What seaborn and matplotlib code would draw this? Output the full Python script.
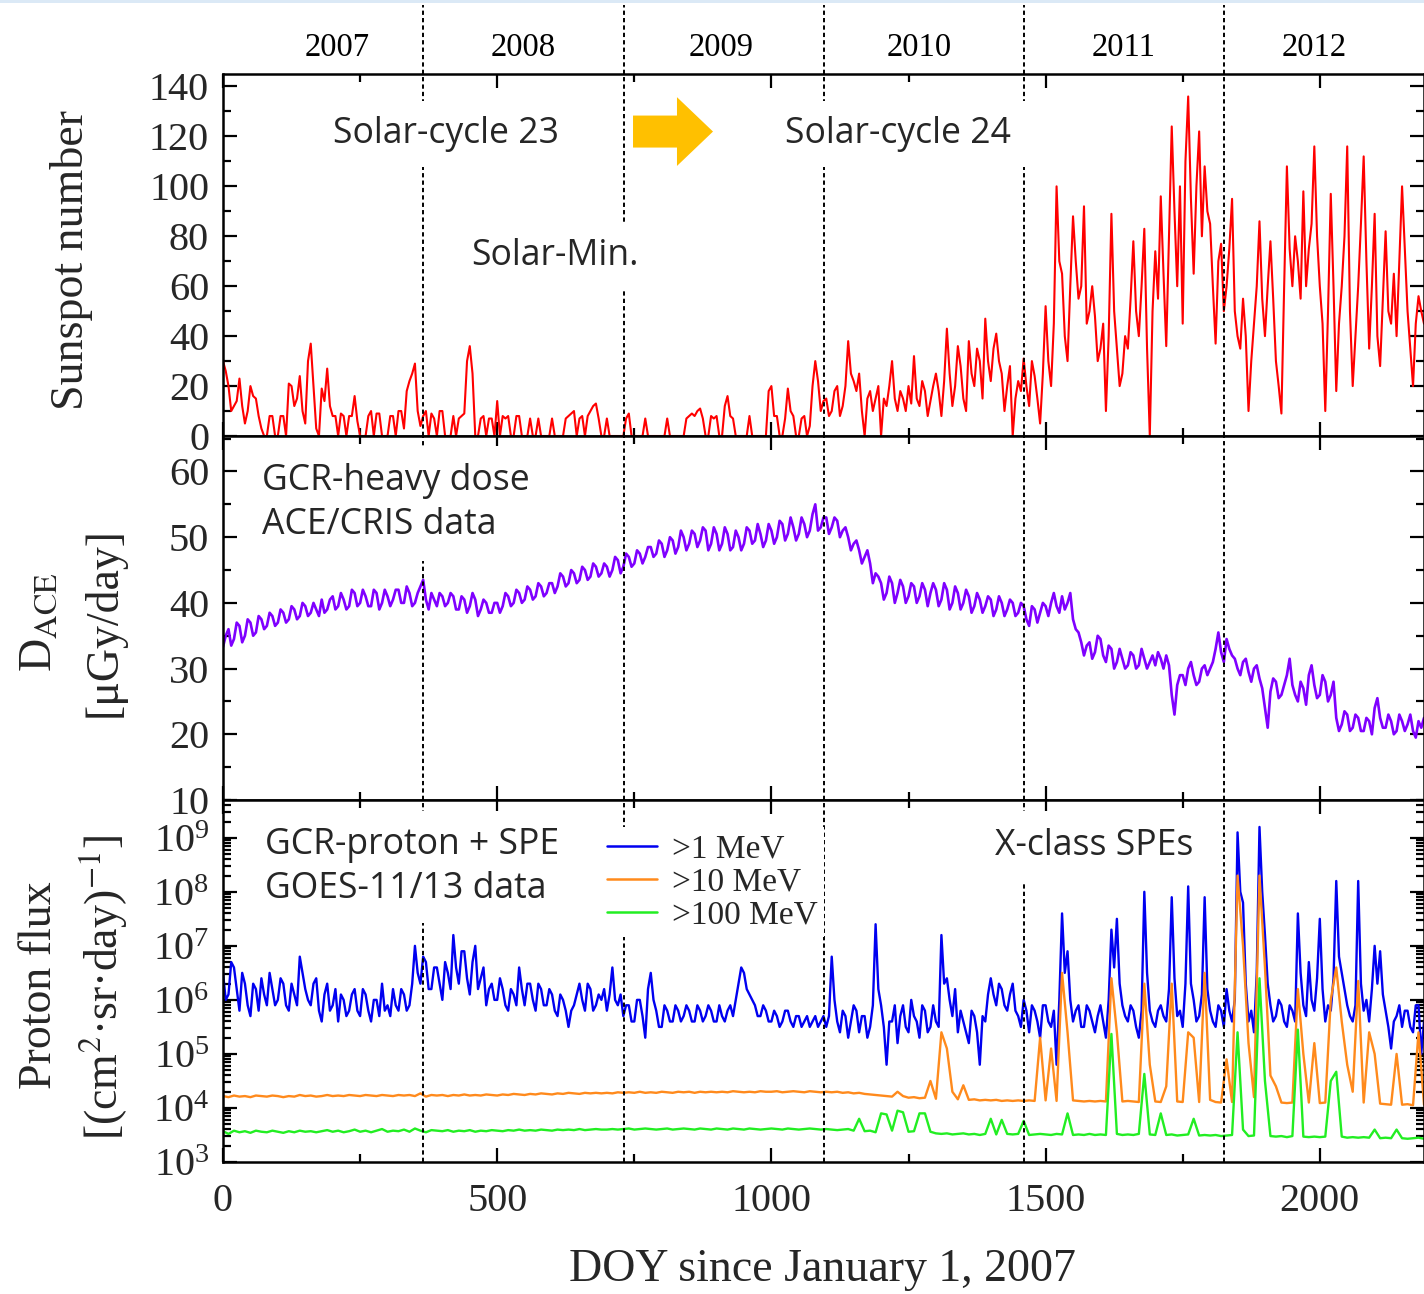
import numpy as np
import pandas as pd
import matplotlib
matplotlib.use("Agg")
import matplotlib.pyplot as plt
import matplotlib.patches as mpatches
from matplotlib.ticker import MultipleLocator, LogLocator, NullFormatter
import seaborn as sns

# ---------------- data ----------------
days_5 = np.arange(0, 2191, 5)     # sunspot, dose and >1 MeV: one value every 5 days
days_10 = np.arange(0, 2191, 10)   # >10 MeV and >100 MeV: one value every 10 days

sunspot = [
    30, 26, 20, 10, 12, 14, 23, 12, 5, 10, 20, 16, 15, 8, 3, 0, 0, 8, 8, 0,
    0, 8, 8, 0, 21, 20, 12, 15, 24, 10, 5, 30, 37, 20, 3, 0, 19, 14, 27, 12,
    8, 8, 0, 9, 8, 0, 8, 8, 16, 6, 0, 0, 0, 8, 10, 0, 9, 9, 0, 0,
    0, 8, 8, 0, 10, 10, 3, 18, 22, 25, 29, 10, 4, 8, 10, 0, 9, 7, 0, 10,
    10, 0, 0, 0, 8, 0, 7, 8, 9, 30, 36, 25, 0, 0, 7, 8, 0, 7, 7, 0,
    14, 0, 8, 7, 8, 0, 0, 8, 8, 0, 0, 0, 7, 0, 0, 7, 0, 0, 0, 0,
    7, 0, 0, 0, 0, 7, 8, 9, 10, 0, 7, 8, 0, 8, 10, 12, 13, 7, 0, 0,
    7, 0, 0, 0, 0, 0, 0, 7, 9, 0, 0, 0, 0, 0, 7, 0, 0, 0, 0, 0,
    0, 0, 7, 0, 0, 0, 0, 0, 0, 7, 8, 9, 8, 10, 11, 7, 0, 0, 8, 7,
    8, 0, 0, 12, 16, 8, 7, 0, 0, 0, 0, 0, 8, 0, 0, 0, 0, 0, 0, 18,
    20, 8, 8, 0, 0, 7, 19, 10, 8, 0, 0, 7, 8, 0, 4, 20, 30, 22, 10, 14,
    15, 8, 10, 18, 20, 8, 12, 20, 38, 25, 22, 18, 25, 10, 0, 15, 18, 10, 15, 20,
    0, 15, 12, 20, 30, 15, 10, 18, 15, 10, 20, 13, 32, 15, 12, 22, 18, 8, 14, 20,
    25, 18, 8, 22, 43, 25, 12, 20, 36, 28, 15, 10, 38, 25, 20, 35, 30, 15, 47, 30,
    22, 35, 41, 30, 25, 10, 20, 28, 0, 15, 22, 18, 31, 20, 12, 30, 24, 15, 5, 25,
    52, 30, 20, 45, 100, 70, 65, 40, 30, 60, 88, 70, 55, 60, 92, 45, 50, 60, 48, 30,
    35, 45, 10, 40, 89, 50, 35, 20, 25, 40, 35, 55, 78, 50, 40, 60, 83, 35, 0, 50,
    74, 55, 96, 65, 36, 80, 124, 90, 60, 100, 45, 110, 136, 95, 65, 100, 122, 80, 108, 90,
    85, 60, 37, 70, 77, 50, 60, 75, 95, 50, 40, 35, 55, 40, 10, 30, 45, 60, 86, 55,
    40, 60, 78, 55, 30, 20, 9, 60, 108, 75, 60, 80, 70, 55, 98, 60, 75, 85, 116, 80,
    60, 45, 10, 50, 97, 60, 18, 45, 60, 80, 116, 50, 20, 40, 60, 85, 112, 70, 35, 60,
    89, 40, 28, 55, 82, 50, 45, 65, 40, 70, 100, 75, 50, 35, 20, 45, 56, 50, 45,
]

dose_ace = [
    33.3, 35, 36, 33.5, 34.5, 37, 36.5, 34, 35, 37.5, 37, 35, 35.5, 38, 37.5, 36, 36.5, 38.5, 38, 36.5,
    37, 39, 38.5, 37, 37.5, 39.5, 39, 37.5, 38, 40, 39.5, 38, 38.5, 40, 39, 38, 40.5, 38.5, 39, 40.5,
    41, 39, 39.5, 41.5, 40.5, 39, 39.5, 42, 41.5, 39.5, 40, 42, 41, 39.5, 39.5, 42, 41.5, 39, 40, 42,
    41, 39.5, 40.5, 42, 42, 40, 40, 42.5, 41.5, 39.5, 40, 41.5, 42.5, 43.5, 40.5, 39, 41.5, 40.5, 39.5, 41.5,
    41, 39.5, 40, 41.5, 41, 39, 39, 41, 40.5, 38.5, 39.5, 41.5, 40.5, 38, 39, 40.5, 40, 38.5, 38.5, 40,
    40, 38.5, 39.5, 41.5, 41, 39.5, 40, 42, 41.5, 40, 40.5, 42.5, 42, 40.5, 41, 43, 42.5, 41, 41.5, 43,
    43, 41.5, 42.5, 44.5, 44, 42.5, 43, 45, 44.5, 43, 43.5, 45.5, 45, 43.5, 44, 46, 45.5, 44, 44.5, 46,
    45.5, 44, 45, 47, 46.5, 44.5, 45.5, 47.5, 47, 45.5, 46, 48, 47.5, 46, 47, 48.5, 48.5, 47, 47.5, 49.5,
    49, 47, 48, 50, 49.5, 47.5, 48.5, 51, 50, 48, 49, 51, 50.5, 48.5, 49.5, 51.5, 51, 48, 49, 51.5,
    50.5, 48, 49, 51.5, 50.5, 48, 48.5, 51, 50, 48, 49, 51.5, 51, 49, 49.5, 52, 50.5, 48.5, 49.5, 52,
    51, 49, 50, 52.5, 52, 49.5, 50.5, 53, 51.5, 49.5, 50.5, 53, 52, 50, 51, 53.5, 55, 51, 51.5, 53,
    53, 50.5, 51.5, 53, 52.5, 50, 51, 51.5, 50, 48, 49, 49.5, 48, 46, 47, 48, 46, 43, 44.5, 44,
    43, 40.5, 41.5, 44, 43, 40, 41.5, 43.5, 42.5, 40, 41, 43, 42.5, 40, 41, 43, 42, 39.5, 41.5, 43,
    42, 39.5, 40.5, 43, 42, 39, 40, 42.5, 41.5, 39, 40, 42, 41, 38.5, 39.5, 41.5, 40.5, 38.5, 39.5, 41,
    40.5, 38, 39, 41, 40, 38, 39, 40.5, 40, 38, 38.5, 40, 39.5, 37.5, 36.5, 39.5, 39, 37, 38.5, 40,
    39.5, 38, 40, 41.5, 39.5, 38.5, 41, 39, 40, 41.5, 37.5, 36, 35.5, 34, 32, 33.5, 34, 31.5, 32.5, 35,
    34.5, 32, 31, 33.5, 33, 30, 31, 33, 31.5, 30, 30.5, 32.5, 32, 30, 30.5, 33, 31.5, 30, 31, 32,
    30.5, 32.5, 31.5, 30, 32, 30.5, 26, 23, 27.5, 29, 29, 27.5, 30, 31, 29, 27.5, 28, 30, 30.5, 29,
    30, 31, 33, 35.5, 32.5, 31, 34.5, 33, 32, 31.5, 30, 29, 31, 31.5, 29.5, 28, 30, 30.5, 28.5, 27,
    24, 21, 26.5, 28.5, 28, 25.5, 26, 27.5, 29, 31.5, 27.5, 26, 25, 28, 27, 24.5, 29, 30.5, 27.5, 25.5,
    26, 29, 28, 25, 26, 28, 22.5, 20.5, 21.5, 23.5, 23, 20.5, 21, 23, 22.5, 20.5, 20.5, 22.5, 22, 20,
    24, 25.5, 22.5, 21, 21, 23, 22, 20, 20.5, 23, 22, 20.5, 21.5, 23, 20.5, 19.5, 22, 21, 22.5,
]

# proton fluxes given as log10 of (cm^2 sr day)^-1
flux_1mev_log10 = [
    6.5, 6.0, 6.1, 6.7, 6.6, 6.2, 5.8, 6.5, 6.3, 5.9, 5.7, 6.3, 6.2, 5.8, 6.4, 6.1, 5.9, 6.5, 6.2, 5.9,
    6.0, 6.4, 6.3, 5.9, 5.8, 6.3, 6.1, 5.9, 6.8, 6.5, 6.2, 6.0, 5.9, 6.3, 6.4, 5.8, 5.6, 6.1, 6.3, 5.8,
    5.9, 6.2, 5.6, 6.1, 6.0, 5.7, 5.8, 6.1, 6.2, 5.8, 5.7, 6.2, 6.1, 5.8, 5.6, 6.0, 6.0, 5.7, 6.3, 5.8,
    5.9, 5.7, 6.2, 5.9, 5.8, 6.2, 6.1, 5.8, 5.9, 6.3, 7.0, 6.5, 6.3, 6.8, 6.7, 6.2, 6.2, 6.6, 6.6, 6.3,
    6.0, 6.7, 6.5, 6.2, 7.2, 6.6, 6.3, 6.9, 6.9, 6.4, 6.1, 6.7, 7.0, 6.2, 6.4, 6.6, 5.9, 6.2, 6.3, 6.0,
    6.0, 6.4, 6.2, 5.9, 5.8, 6.2, 6.1, 5.9, 6.6, 6.2, 5.9, 6.3, 6.3, 6.0, 5.8, 6.3, 6.2, 5.9, 5.9, 6.2,
    6.1, 5.8, 5.7, 6.1, 6.0, 5.8, 5.5, 5.8, 5.9, 6.1, 6.3, 6.0, 5.8, 6.3, 6.2, 5.8, 5.9, 6.1, 6.0, 6.2,
    5.8, 6.1, 6.6, 6.0, 5.9, 6.1, 5.7, 5.9, 5.9, 5.6, 5.6, 6.0, 6.0, 5.7, 5.3, 6.2, 6.5, 6.0, 5.8, 5.5,
    5.5, 5.9, 5.8, 5.6, 5.6, 5.9, 5.8, 5.6, 5.7, 5.9, 5.8, 5.6, 5.6, 5.9, 5.8, 5.6, 5.7, 5.9, 5.8, 5.6,
    5.6, 5.9, 5.7, 5.6, 5.8, 5.9, 5.7, 6.0, 6.3, 6.6, 6.5, 6.2, 6.1, 6.0, 5.9, 5.7, 5.7, 5.9, 5.8, 5.6,
    5.6, 5.8, 5.7, 5.5, 5.6, 5.8, 5.8, 5.6, 5.5, 5.7, 5.7, 5.5, 5.6, 5.7, 5.5, 5.6, 5.7, 5.5, 5.6, 5.7,
    5.5, 5.7, 6.8, 6.0, 5.6, 5.4, 5.8, 5.7, 5.3, 5.6, 5.9, 5.8, 5.4, 5.7, 5.7, 5.3, 5.5, 5.9, 7.4, 6.2,
    5.9, 5.5, 4.8, 5.6, 5.6, 5.9, 5.2, 5.7, 5.9, 5.5, 5.4, 6.0, 5.7, 5.6, 5.3, 5.9, 5.8, 5.4, 5.5, 5.9,
    5.6, 5.5, 7.2, 6.3, 6.4, 6.0, 5.7, 6.2, 5.4, 5.8, 5.6, 5.4, 5.2, 5.8, 5.7, 5.4, 4.8, 5.7, 5.6, 6.1,
    6.4, 6.1, 5.9, 6.3, 6.2, 5.9, 5.8, 6.1, 6.3, 5.8, 5.7, 5.5, 6.0, 5.8, 5.4, 5.9, 5.8, 5.6, 5.3, 5.9,
    5.9, 5.6, 5.5, 5.8, 4.8, 6.0, 7.6, 6.5, 6.9, 6.0, 5.6, 5.8, 5.9, 5.5, 5.5, 5.9, 5.8, 5.6, 5.4, 5.7,
    5.9, 5.6, 5.3, 6.0, 7.3, 6.6, 7.5, 6.3, 5.9, 5.7, 5.6, 5.9, 5.8, 5.5, 5.3, 5.8, 8.0, 6.5, 5.8, 5.6,
    5.5, 5.8, 5.9, 5.7, 5.6, 6.2, 7.9, 6.4, 5.7, 5.8, 5.5, 6.3, 8.1, 6.3, 6.0, 5.6, 5.7, 6.1, 7.9, 6.2,
    5.8, 5.6, 5.5, 5.9, 5.8, 5.5, 6.2, 5.8, 5.6, 6.0, 9.1, 8.0, 7.8, 6.3, 5.6, 5.8, 5.4, 6.5, 9.2, 8.0,
    7.2, 6.3, 5.9, 5.6, 5.7, 6.0, 5.9, 5.6, 5.5, 5.9, 5.8, 5.6, 7.6, 6.5, 5.9, 5.7, 6.7, 6.0, 5.8, 6.4,
    7.5, 6.2, 5.6, 5.9, 5.8, 6.4, 8.2, 6.8, 6.5, 6.2, 5.9, 5.7, 5.6, 5.9, 8.2, 6.3, 5.8, 6.0, 5.6, 6.2,
    7.0, 6.3, 6.9, 6.1, 5.8, 5.5, 5.1, 5.6, 5.7, 5.9, 5.5, 5.8, 5.8, 5.5, 5.4, 5.9, 5.9, 5.0, 5.6,
]

flux_10mev_log10 = [
    4.22, 4.20, 4.23, 4.21, 4.22, 4.20, 4.23, 4.22, 4.21, 4.23,
    4.22, 4.20, 4.22, 4.21, 4.24, 4.22, 4.23, 4.21, 4.22, 4.24,
    4.22, 4.23, 4.22, 4.24, 4.23, 4.22, 4.24, 4.23, 4.22, 4.24,
    4.23, 4.22, 4.24, 4.23, 4.24, 4.22, 4.27, 4.21, 4.24, 4.23,
    4.24, 4.22, 4.24, 4.23, 4.25, 4.23, 4.24, 4.23, 4.25, 4.24,
    4.23, 4.25, 4.24, 4.26, 4.25, 4.24, 4.26, 4.25, 4.27, 4.26,
    4.25, 4.27, 4.26, 4.28, 4.27, 4.26, 4.28, 4.27, 4.28, 4.27,
    4.28, 4.27, 4.29, 4.28, 4.29, 4.28, 4.30, 4.28, 4.29, 4.28,
    4.30, 4.29, 4.28, 4.30, 4.29, 4.30, 4.28, 4.30, 4.29, 4.30,
    4.29, 4.30, 4.29, 4.31, 4.30, 4.29, 4.30, 4.29, 4.31, 4.30,
    4.30, 4.31, 4.29, 4.30, 4.31, 4.30, 4.29, 4.31, 4.30, 4.29,
    4.30, 4.29, 4.30, 4.28, 4.29, 4.27, 4.28, 4.26, 4.25, 4.24,
    4.23, 4.22, 4.21, 4.30, 4.22, 4.19, 4.20, 4.18, 4.19, 4.50,
    4.17, 5.40, 5.10, 4.30, 4.16, 4.42, 4.15, 4.16, 4.14, 4.15,
    4.14, 4.15, 4.13, 4.14, 4.13, 4.14, 4.13, 4.14, 4.13, 5.30,
    4.14, 5.10, 4.13, 6.50, 5.40, 4.14, 4.13, 4.12, 4.13, 4.12,
    4.13, 4.12, 6.40, 5.40, 4.12, 4.13, 4.12, 4.11, 6.30, 4.80,
    4.12, 4.11, 4.40, 6.30, 4.12, 4.11, 5.40, 5.30, 4.11, 6.50,
    4.15, 4.11, 4.10, 4.90, 4.11, 8.30, 7.00, 5.20, 4.20, 8.30,
    6.60, 4.60, 4.40, 4.10, 4.09, 4.10, 6.20, 5.00, 4.10, 5.20,
    4.09, 4.10, 6.00, 6.60, 5.60, 4.80, 4.30, 6.35, 4.10, 5.40,
    5.00, 4.08, 4.07, 4.06, 5.00, 4.06, 4.07, 4.05, 5.40, 4.06,
]

flux_100mev_log10 = [
    3.57, 3.52, 3.58, 3.55, 3.57, 3.54, 3.58, 3.56, 3.55, 3.58,
    3.56, 3.54, 3.57, 3.55, 3.58, 3.56, 3.57, 3.55, 3.57, 3.59,
    3.56, 3.58, 3.55, 3.57, 3.60, 3.56, 3.58, 3.55, 3.58, 3.61,
    3.56, 3.58, 3.57, 3.60, 3.56, 3.62, 3.58, 3.55, 3.59, 3.58,
    3.57, 3.59, 3.56, 3.58, 3.57, 3.59, 3.56, 3.58, 3.57, 3.59,
    3.58, 3.57, 3.59, 3.58, 3.60, 3.58, 3.59, 3.58, 3.60, 3.59,
    3.58, 3.60, 3.59, 3.60, 3.59, 3.61, 3.59, 3.60, 3.61, 3.60,
    3.60, 3.61, 3.60, 3.61, 3.62, 3.60, 3.61, 3.62, 3.61, 3.60,
    3.61, 3.62, 3.60, 3.61, 3.62, 3.61, 3.60, 3.62, 3.61, 3.60,
    3.62, 3.61, 3.60, 3.62, 3.61, 3.60, 3.62, 3.61, 3.60, 3.61,
    3.62, 3.61, 3.60, 3.62, 3.61, 3.60, 3.61, 3.62, 3.61, 3.60,
    3.61, 3.60, 3.59, 3.60, 3.61, 3.58, 3.80, 3.57, 3.58, 3.55,
    3.90, 3.88, 3.58, 3.95, 3.92, 3.56, 3.57, 3.90, 3.90, 3.56,
    3.53, 3.52, 3.53, 3.51, 3.52, 3.53, 3.51, 3.52, 3.50, 3.52,
    3.80, 3.51, 3.78, 3.52, 3.51, 3.52, 3.76, 3.50, 3.51, 3.52,
    3.51, 3.50, 3.52, 3.51, 3.90, 3.50, 3.51, 3.50, 3.52, 3.50,
    3.51, 3.50, 5.37, 3.52, 3.50, 3.51, 3.50, 3.52, 4.63, 3.51,
    3.50, 3.90, 3.50, 3.51, 3.49, 3.50, 3.51, 3.80, 3.49, 3.50,
    3.49, 3.50, 3.48, 3.49, 3.50, 5.40, 3.60, 3.48, 3.49, 6.40,
    4.50, 3.48, 3.47, 3.48, 3.46, 3.48, 5.45, 3.47, 3.46, 3.47,
    3.46, 3.47, 4.50, 4.67, 3.47, 3.45, 3.46, 3.45, 3.46, 3.45,
    3.60, 3.44, 3.45, 3.44, 3.60, 3.44, 3.43, 3.44, 3.45, 3.43,
]

series_labels = [">1 MeV", ">10 MeV", ">100 MeV"]
year_labels = ["2007", "2008", "2009", "2010", "2011", "2012"]
year_label_days = [208, 547, 908, 1270, 1642, 1989]
year_boundaries = [365, 731, 1096, 1461, 1826]

assert len(sunspot) == len(days_5) and len(dose_ace) == len(days_5)
assert len(flux_1mev_log10) == len(days_5)
assert len(flux_10mev_log10) == len(days_10) and len(flux_100mev_log10) == len(days_10)

df_ssn = pd.DataFrame({"day": days_5, "ssn": sunspot})
df_dose = pd.DataFrame({"day": days_5, "dose": dose_ace})
df_flux = pd.concat([
    pd.DataFrame({"day": days_5, "flux": 10.0 ** np.asarray(flux_1mev_log10), "energy": series_labels[0]}),
    pd.DataFrame({"day": days_10, "flux": 10.0 ** np.asarray(flux_10mev_log10), "energy": series_labels[1]}),
    pd.DataFrame({"day": days_10, "flux": 10.0 ** np.asarray(flux_100mev_log10), "energy": series_labels[2]}),
], ignore_index=True)

# ---------------- style ----------------
sns.set_style("ticks")
plt.rcParams["font.family"] = ["Liberation Serif", "DejaVu Serif"]
plt.rcParams["mathtext.fontset"] = "stix"
plt.rcParams["axes.linewidth"] = 1.8
SANS = ["Open Sans", "DejaVu Sans"]
INK = "black"
ANN = 25.6

W, H = 1424, 1294
fig = plt.figure(figsize=(W / 100, H / 100), dpi=100)


def frame(l, t, r, b):
    return [l / W, 1 - b / H, (r - l) / W, (b - t) / H]


ax_year = fig.add_axes(frame(223, 0, 1424, 74))
ax1 = fig.add_axes(frame(223, 74, 1424, 436))
ax2 = fig.add_axes(frame(223, 436, 1424, 800))
ax3 = fig.add_axes(frame(223, 800, 1424, 1162))

XMAX = 2190
dash = (0, (2.2, 1.6))

# light blue band at the very top
fig.patches.append(mpatches.Rectangle((0, 1 - 3 / H), 1, 3 / H, transform=fig.transFigure,
                                      facecolor="#dbe9f6", edgecolor="none", zorder=0))

# year strip
ax_year.set_xlim(0, XMAX)
ax_year.set_ylim(0, 1)
ax_year.axis("off")
for b in year_boundaries:
    ax_year.axvline(b, ymin=0, ymax=1 - 5 / 74, color=INK, lw=1.4, ls=dash)
for lab, d in zip(year_labels, year_label_days):
    ax_year.text(d, 1 - 48 / 74, lab, ha="center", va="center", fontsize=23.5, color=INK)

# data
sns.lineplot(data=df_ssn, x="day", y="ssn", ax=ax1, color="#FF0000", lw=1.5,
             estimator=None, legend=False)
sns.lineplot(data=df_dose, x="day", y="dose", ax=ax2, color="#7F00FF", lw=1.9,
             estimator=None, legend=False)
sns.lineplot(data=df_flux, x="day", y="flux", hue="energy", hue_order=series_labels,
             palette=["#0000F0", "#FF8A1C", "#22EE22"], ax=ax3, lw=1.7,
             estimator=None, legend=True)

ax1.set_ylim(0, 145)
ax2.set_ylim(10, 65.4)
ax3.set_yscale("log")
ax3.set_ylim(1e3, 5e9)

for ax in (ax1, ax2, ax3):
    ax.set_xlim(0, XMAX)
    ax.set_xlabel("")
    ax.set_ylabel("")
    ax.xaxis.set_major_locator(MultipleLocator(500))
    ax.xaxis.set_minor_locator(MultipleLocator(250))
    ax.tick_params(which="both", direction="in", top=True, right=True, width=1.6, color=INK)
    ax.tick_params(which="major", length=10, labelsize=29, pad=10)
    ax.tick_params(which="minor", length=6)
    for s in ax.spines.values():
        s.set_linewidth(1.8)
        s.set_color(INK)
    for b in year_boundaries:
        ax.axvline(b, color=INK, lw=1.4, ls=dash, zorder=3)

ax1.yaxis.set_major_locator(MultipleLocator(20))
ax1.yaxis.set_minor_locator(MultipleLocator(10))
ax2.yaxis.set_major_locator(MultipleLocator(10))
ax2.yaxis.set_minor_locator(MultipleLocator(5))
ax3.yaxis.set_major_locator(LogLocator(base=10, numticks=20))
ax3.yaxis.set_minor_locator(LogLocator(base=10, subs=np.arange(2, 10), numticks=20))
ax3.yaxis.set_minor_formatter(NullFormatter())
ax1.tick_params(labelbottom=False)
ax2.tick_params(labelbottom=False)
ax3.tick_params(axis="x", which="major", pad=15)

box = dict(boxstyle="square,pad=0.42", facecolor="white", edgecolor="none")

# annotations, top panel
ax1.text(0.1857, 0.835, "Solar-cycle 23", transform=ax1.transAxes, ha="center", va="center",
         fontsize=ANN, family=SANS, bbox=box, zorder=6)
ax1.text(0.2764, 0.497, "Solar-Min.", transform=ax1.transAxes, ha="center", va="center",
         fontsize=ANN, family=SANS, bbox=box, zorder=6)
ax1.text(0.562, 0.835, "Solar-cycle 24", transform=ax1.transAxes, ha="center", va="center",
         fontsize=ANN, family=SANS, bbox=box, zorder=6)
ax1.add_patch(mpatches.FancyArrow(0.3414, 0.841, 0.0666, 0, width=0.0884, head_width=0.19,
                                  head_length=0.03, length_includes_head=True,
                                  transform=ax1.transAxes, facecolor="#FFC000",
                                  edgecolor="none", zorder=6))

# middle panel
ax2.text(0.0325, 0.815, "GCR-heavy dose\nACE/CRIS data", transform=ax2.transAxes, ha="left",
         va="center", fontsize=ANN, family=SANS, linespacing=1.3,
         bbox=dict(boxstyle="square,pad=0.5", facecolor="white", edgecolor="none"), zorder=6)

# bottom panel
ax3.text(0.035, 0.815, "GCR-proton + SPE\nGOES-11/13 data", transform=ax3.transAxes, ha="left",
         va="center", fontsize=ANN, family=SANS, linespacing=1.3,
         bbox=dict(boxstyle="square,pad=0.45", facecolor="white", edgecolor="none"), zorder=6)
ax3.text(0.6428, 0.872, "X-class SPEs", transform=ax3.transAxes, ha="left", va="center",
         fontsize=ANN, family=SANS,
         bbox=dict(boxstyle="square,pad=0.5", facecolor="white", edgecolor="none"), zorder=6)

handles, labels = ax3.get_legend_handles_labels()
leg = ax3.legend(handles, labels, loc="upper left", bbox_to_anchor=(0.314, 0.925),
                 borderaxespad=0, borderpad=0.2, handlelength=1.5, handletextpad=0.45,
                 labelspacing=0.08, fontsize=24, frameon=True, fancybox=False,
                 framealpha=1, facecolor="white", edgecolor="none")
leg.set_zorder(6)
for lh in leg.get_lines():
    lh.set_linewidth(1.8)

# axis titles
fig.text(72 / W, 1 - 260 / H, "Sunspot number", rotation=90, ha="center", va="center",
         fontsize=33)
fig.text(40 / W, 1 - 622 / H, r"D$_{\mathrm{ACE}}$", rotation=90, ha="center", va="center",
         fontsize=33)
fig.text(104 / W, 1 - 622 / H, "[μGy/day]", rotation=90, ha="center", va="center",
         fontsize=33)
fig.text(40 / W, 1 - 985 / H, "Proton flux", rotation=90, ha="center", va="center",
         fontsize=33)
fig.text(104 / W, 1 - 987 / H, r"[(cm$^{2}$·sr·day)$^{-1}$]", rotation=90, ha="center",
         va="center", fontsize=33)
fig.text(822 / W, 1 - 1270 / H, "DOY since January 1, 2007", ha="center", va="center",
         fontsize=33)

fig.savefig("out.png", dpi=100)
